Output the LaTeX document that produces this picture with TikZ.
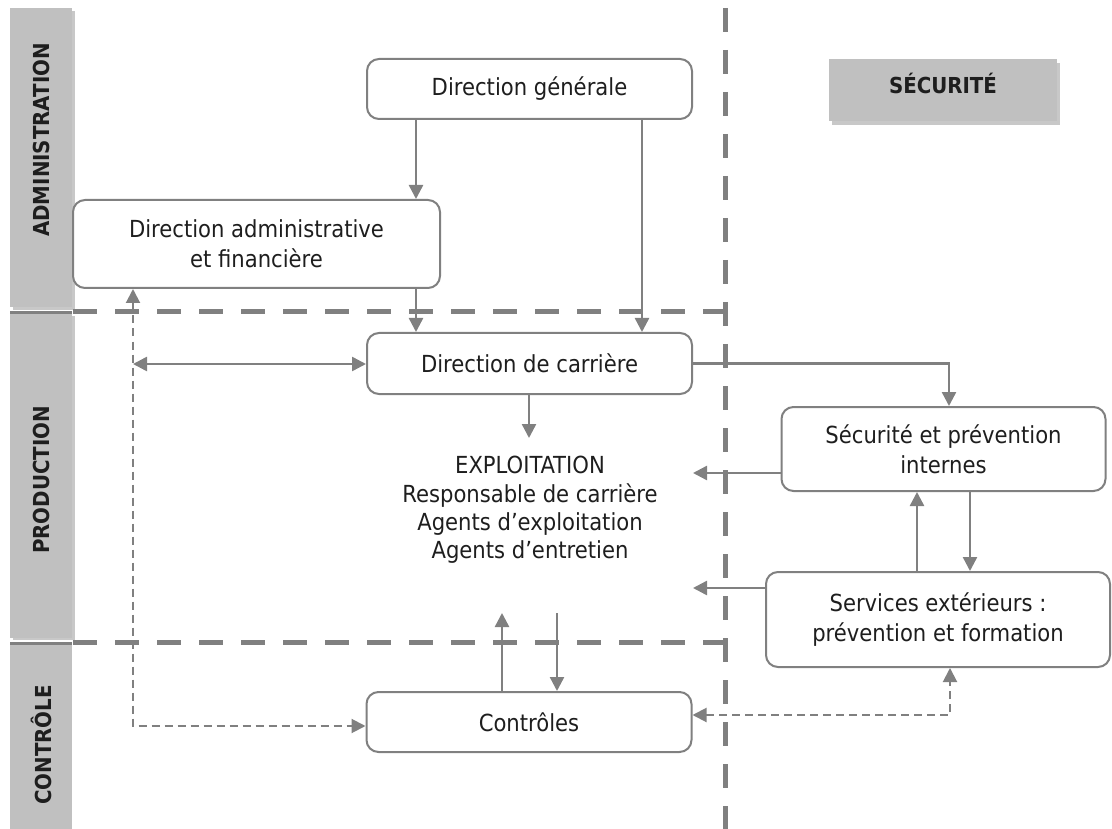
\documentclass[tikz,border=0pt]{standalone}
\usepackage{fontspec}
\setmainfont{DejaVu Sans Condensed}[BoldFont={DejaVu Sans Condensed Bold}]
\usetikzlibrary{arrows.meta}
\definecolor{linegray}{HTML}{808080}
\definecolor{bandgray}{HTML}{C0C0C0}
\definecolor{bandshade}{HTML}{C8C8C8}
\definecolor{txt}{HTML}{1E1E1E}
\begin{document}
\begin{tikzpicture}[x=1pt,y=-1pt,
  box/.style={draw=linegray, line width=2pt, rounded corners=12pt, fill=white,
    align=center, text=txt, font=\fontsize{23.5}{30}\selectfont, inner sep=0pt},
  tip/.tip={Triangle[length=14pt,width=14pt]},
  arr/.style={draw=linegray, line width=2.5pt, -tip},
  darr/.style={draw=linegray, line width=2pt, dash pattern=on 8pt off 5pt, tip-tip},
  sepline/.style={draw=linegray, line width=5pt, dash pattern=on 24pt off 18pt},
  bandlbl/.style={rotate=90, font=\bfseries\fontsize{22}{22}\selectfont, text=txt}
]
\useasboundingbox (0,0) rectangle (1112,829);

% side bands
\fill[bandshade] (13,11) rectangle (75,310);
\fill[bandgray] (10,8) rectangle (72,307);
\fill[bandshade] (13,316) rectangle (75,640);
\fill[bandgray] (10,313) rectangle (72,638);
\fill[bandgray] (10,644) rectangle (72,829);
\draw[linegray, line width=3pt] (10,313) -- (72,313);
\draw[linegray, line width=3pt] (10,643) -- (72,643);
\node[bandlbl] (ladm) at (41,140) {ADMINISTRATION};
\node[bandlbl] (lprod) at (41,480) {PRODUCTION};
\node[bandlbl] (lctl) at (41,745) {CONTRÔLE};

% separators
\draw[sepline] (73,312) -- (725,312);
\draw[sepline] (73,642) -- (725,642);
\draw[sepline] (725,8) -- (725,829);

% SECURITE header
\fill[bandshade] (832,63) rectangle (1060,125);
\fill[bandgray] (829,59) rectangle (1057,121);
\node[font=\bfseries\fontsize{22}{22}\selectfont, text=txt] (lsec) at (943,83) {SÉCURITÉ};

% boxes
\node[box, minimum width=325pt, minimum height=60pt] (dg) at (529.5,89) {Direction générale};
\node[box, minimum width=367pt, minimum height=88pt] (daf) at (256.5,244) {Direction administrative\\et financière};
\node[box, minimum width=325pt, minimum height=61pt] (dc) at (529.5,363.5) {Direction de carrière};
\node[box, minimum width=324pt, minimum height=84pt] (spi) at (943.5,449) {Sécurité et prévention\\internes};
\node[box, minimum width=344pt, minimum height=95pt] (se) at (938,619.5) {Services extérieurs :\\prévention et formation};
\node[box, minimum width=325pt, minimum height=60pt] (ctl) at (529,722) {Contrôles};
\node[align=center, text=txt, font=\fontsize{23.5}{28.3}\selectfont, inner sep=0pt] (exp) at (530,510) {EXPLOITATION\\Responsable de carrière\\Agents d’exploitation\\Agents d’entretien};

% helper coordinates
\coordinate (xa) at (416,0);
\coordinate (xb) at (642,0);
\coordinate (xl) at (133,0);
\coordinate (xm) at (529,0);
\coordinate (xr) at (949,0);
\coordinate (xu) at (917,0);
\coordinate (xd) at (970,0);
\coordinate (xcu) at (502,0);
\coordinate (xcd) at (557,0);
\coordinate (e1) at (529,438);
\coordinate (l1) at (133,364);
\coordinate (t1) at (693,473);
\coordinate (t2) at (693,588);
\coordinate (c1) at (502,613);
\coordinate (c2) at (557,613);
\coordinate (d1) at (133,726);
\coordinate (d2) at (950,715);

% connectors
\draw[arr] (xa |- dg.south) -- (xa |- daf.north);
\draw[arr] (xb |- dg.south) -- (xb |- dc.north);
\draw[arr] (xa |- daf.south) -- (xa |- dc.north);
\draw[arr, tip-tip] (l1) -- (l1 -| dc.west);
\draw[arr] (xm |- dc.south) -- (e1);
\draw[arr] (dc.east) -- (xr |- dc.east) -- (xr |- spi.north);
\draw[arr] (t1 -| spi.west) -- (t1);
\draw[arr] (t2 -| se.west) -- (t2);
\draw[arr] (xu |- se.north) -- (xu |- spi.south);
\draw[arr] (xd |- spi.south) -- (xd |- se.north);
\draw[arr] (xcu |- ctl.north) -- (c1);
\draw[arr] (c2) -- (xcd |- ctl.north);
\draw[darr] (xl |- daf.south) -- (d1) -- (d1 -| ctl.west);
\draw[darr] (d2 -| ctl.east) -- (d2) -- (d2 |- se.south);
\end{tikzpicture}
\end{document}
